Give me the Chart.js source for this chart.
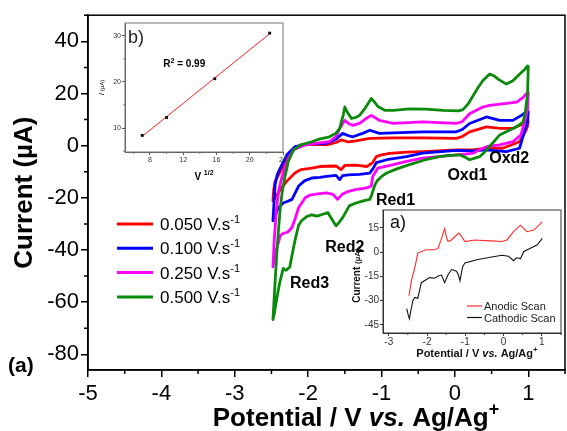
<!DOCTYPE html>
<html>
<head>
<meta charset="utf-8">
<script src="https://cdn.jsdelivr.net/npm/chart.js@4.4.1/dist/chart.umd.min.js"></script>
<style>
body { margin: 0; background: #fff; }
#wrap { position: relative; width: 567px; height: 431px; }
canvas { position: absolute; }
</style>
</head>
<body>
<div id="wrap">
  <canvas id="main" width="567" height="431" style="left:0;top:0"></canvas>
  <canvas id="insB" width="203" height="172" style="left:90px;top:16px"></canvas>
  <canvas id="insA" width="220" height="160" style="left:345px;top:203px"></canvas>
</div>
<script>
// ---------------- DATOS ----------------
const scanRates = ['0.050', '0.100', '0.250', '0.500'];   // V.s-1
const rateColors = ['#ff0000', '#0000ff', '#ff00ff', '#0a8a0a'];

// 0.050 V/s  (cathodic branch from 1.0 V, then anodic branch back)
const pot050 = [1.00, 0.99, 0.97, 0.88, 0.65, 0.43, 0.25, 0.02, -0.44, -0.66, -0.89, -1.00, -1.07, -1.12, -1.20, -1.35, -1.50, -1.55, -1.62, -1.75, -1.84, -1.95, -2.10, -2.18, -2.29, -2.38, -2.45, -2.48,
  -2.47, -2.45, -2.38, -2.29, -2.18, -2.09, -1.90, -1.75, -1.62, -1.55, -1.45, -1.35, -1.16, -0.84, -0.44, 0.02, 0.10, 0.20, 0.43, 0.61, 0.79, 0.90, 1.00];
const cur050 = [9.7, 7.5, 6.0, 1.5, -1.0, -1.0, -1.6, -1.6, -2.3, -2.5, -3.0, -3.5, -4.2, -6.5, -8.0, -7.5, -7.6, -9.2, -7.8, -7.9, -8.0, -8.6, -9.2, -10.5, -13.6, -16.8, -20, -21.2,
  -17, -13.6, -9.9, -5.4, -1.0, 0.3, 0.5, 0.3, 1.2, 2.2, 1.4, 1.8, 2.8, 3.0, 3.0, 2.8, 3.5, 5.3, 7.2, 6.6, 6.6, 8.0, 9.7];

// 0.100 V/s
const pot100 = [1.00, 0.99, 0.96, 0.88, 0.70, 0.50, 0.43, 0.25, 0.02, -0.44, -0.66, -0.93, -1.07, -1.12, -1.16, -1.30, -1.45, -1.53, -1.57, -1.62, -1.75, -1.84, -1.95, -2.05, -2.13, -2.22, -2.27, -2.34, -2.41, -2.45, -2.48,
  -2.47, -2.45, -2.42, -2.38, -2.29, -2.18, -2.00, -1.75, -1.62, -1.53, -1.45, -1.39, -1.25, -1.16, -1.03, -0.84, -0.44, 0.02, 0.10, 0.20, 0.43, 0.61, 0.79, 0.90, 1.00];
const cur100 = [13.5, 9, 6.6, -1.0, -2.3, -1.8, -1.6, -2.0, -1.8, -2.9, -4.2, -5.4, -6.5, -9, -10.5, -11.0, -11.2, -11.5, -13.0, -11.4, -11.8, -12.2, -12.4, -13.5, -15.5, -20.6, -21.2, -22, -24, -27, -28.8,
  -24, -14.9, -11, -8.6, -3.5, -0.4, 0.6, 0.9, 2.5, 4.7, 3.8, 3.4, 4.8, 5.9, 4.7, 4.9, 5.3, 5.3, 6.2, 8.5, 11.0, 9.7, 9.7, 11.5, 13.5];

// 0.250 V/s
const pot250 = [1.00, 0.99, 0.96, 0.90, 0.79, 0.61, 0.43, 0.32, 0.25, 0.15, 0.02, -0.44, -0.66, -0.84, -1.05, -1.12, -1.14, -1.20, -1.34, -1.45, -1.53, -1.60, -1.66, -1.75, -1.87, -1.98, -2.04, -2.13, -2.18, -2.22, -2.28, -2.34, -2.38, -2.41, -2.45, -2.48,
  -2.46, -2.43, -2.40, -2.36, -2.29, -2.20, -2.04, -1.90, -1.71, -1.62, -1.57, -1.50, -1.44, -1.39, -1.30, -1.22, -1.14, -1.08, -1.03, -0.84, -0.44, 0.02, 0.10, 0.20, 0.38, 0.47, 0.65, 0.84, 0.93, 1.00];
const cur250 = [20.7, 14, 10.4, 4.1, 1.5, 0.3, -0.4, -1.8, -2.9, -3.2, -3.5, -4.8, -6.0, -7.3, -8.6, -11.8, -15.5, -16.2, -16.8, -17.5, -18.5, -20.6, -18.7, -18.1, -18.5, -19, -20, -23.8, -28.2, -31.4, -33.2, -33.6, -34.5, -37.7, -42, -46.5,
  -35.1, -23.8, -17, -12.4, -6.1, -1.6, 0.3, 0.9, 1.5, 3.5, 6.6, 9.7, 8.3, 7.8, 8.5, 10.2, 11.6, 10.6, 9.7, 8.5, 9.1, 8.5, 9.2, 12.2, 14.8, 15.4, 16.0, 16.7, 18.5, 20.7];

// 0.500 V/s
const pot500 = [1.00, 0.99, 0.96, 0.93, 0.86, 0.79, 0.70, 0.61, 0.53, 0.47, 0.40, 0.34, 0.27, 0.20, 0.13, 0.06, -0.10, -0.21, -0.40, -0.62, -0.80, -0.93, -1.00, -1.06, -1.09, -1.13, -1.16, -1.25, -1.35, -1.44, -1.53, -1.58, -1.62, -1.67, -1.73, -1.80, -1.88, -1.95, -2.02, -2.09, -2.13, -2.18, -2.22, -2.25, -2.30, -2.34, -2.39, -2.43, -2.46, -2.48,
  -2.47, -2.45, -2.42, -2.38, -2.35, -2.32, -2.27, -2.20, -2.10, -1.95, -1.85, -1.71, -1.62, -1.57, -1.52, -1.50, -1.47, -1.41, -1.35, -1.30, -1.22, -1.14, -1.09, -1.05, -0.95, -0.84, -0.62, -0.40, -0.16, 0.05, 0.11, 0.18, 0.25, 0.32, 0.38, 0.47, 0.53, 0.59, 0.70, 0.79, 0.88, 0.95, 1.00];
const cur500 = [30.8, 20, 13, 9.1, 7.6, 6.6, 5.3, 4.1, 1.5, -0.4, -2.6, -4.2, -4.8, -5.4, -4.3, -3.5, -3.8, -4.2, -5.4, -7.3, -9, -10.5, -11.8, -13.5, -15, -18.5, -20.6, -21.2, -22, -23.1, -27.6, -29.5, -30.7, -28.5, -25.7, -26.3, -27, -26.5, -27.2, -28.8, -30.5, -36.4, -42, -46.5, -47.8, -47.1, -52.8, -59, -64.2, -66.7,
  -62, -52, -38, -23.8, -17, -12.4, -6.1, -1.6, 0.3, 1.5, 2.5, 3.4, 4.8, 6.6, 12, 14.8, 13, 10.4, 10.8, 11.6, 14.5, 18.1, 16.5, 15.0, 13.5, 13.5, 14.1, 14.0, 13.5, 13.3, 13.8, 16, 19.2, 22.5, 24.9, 27.4, 26.8, 25.5, 23.6, 24.9, 27.4, 29.2, 30.8];

const potentials = [pot050, pot100, pot250, pot500];
const currents = [cur050, cur100, cur250, cur500];

// etiquetas de picos (posicion en V / uA)
const peakNames = ['Red1', 'Red2', 'Red3', 'Oxd1', 'Oxd2'];
const peakPot = [-0.81, -1.50, -1.98, 0.17, 0.74];
const peakCur = [-20.9, -39.0, -52.7, -11.4, -4.9];

// inset b) : I vs v^1/2
const sqrtRate = [7.07, 10.0, 15.8, 22.4];
const peakCurrent = [8.4, 12.3, 20.7, 30.6];

// inset a) : anodic / cathodic scans
const anodicPot = [-2.47, -2.41, -2.32, -2.24, -2.02, -1.80, -1.71, -1.62, -1.54, -1.49, -1.45, -1.36, -1.18, -1.14, -1.01, -0.75, -0.35, -0.04, 0.09, 0.26, 0.44, 0.61, 0.79, 1.01];
const anodicCur = [-27, -17.8, -9.7, -0.6, 1.4, 1.4, 2.4, 8.5, 14.6, 9, 6.5, 7.5, 11.6, 11, 6.5, 7.5, 6.9, 6.5, 7.5, 12.6, 16.6, 12.6, 13.6, 18.7];
const cathodicPot = [-2.53, -2.49, -2.46, -2.42, -2.37, -2.32, -2.24, -2.15, -1.93, -1.80, -1.71, -1.62, -1.54, -1.45, -1.36, -1.23, -1.18, -1.14, -1.07, -1.01, -0.70, -0.35, -0.04, 0.13, 0.26, 0.33, 0.40, 0.44, 0.53, 0.70, 0.88, 1.01];
const cathodicCur = [-35, -39, -41.2, -36, -30, -28, -28.5, -18.9, -15.8, -16.2, -14.8, -14.2, -18.9, -14, -10.8, -11.8, -14, -17.8, -9, -6.7, -4.7, -3.2, -2.0, -2.6, -5.3, -3.7, -3.7, -4.1, 0.4, 2.4, 4.5, 8.5];

// ---------------- UTILIDADES ----------------
const FAM = "'Liberation Sans', Arial, sans-serif";
Chart.defaults.font.family = FAM;

function pares(xs, ys) {
    return xs.map((v, i) => ({ x: v, y: ys[i] }));
}

// texto con trozos de distinta fuente (superindices, cursiva)
function textoMixto(ctx, trozos, x, y, align) {
    let total = 0;
    trozos.forEach(t => { ctx.font = t.font; t.w = ctx.measureText(t.text).width; total += t.w; });
    let cx = align === 'center' ? x - total / 2 : x;
    ctx.textAlign = 'left';
    ctx.textBaseline = 'alphabetic';
    trozos.forEach(t => { ctx.font = t.font; ctx.fillText(t.text, cx, y - (t.rise || 0)); cx += t.w; });
}

function ticksMenores(ctx, scale, step, len, a, vertical) {
    ctx.beginPath();
    for (let k = Math.ceil(scale.min / step); k * step <= scale.max + 1e-9; k++) {
        if (k % 2 === 0) continue;
        const p = scale.getPixelForValue(k * step);
        if (vertical) { ctx.moveTo(a.left, p); ctx.lineTo(a.left - len, p); }
        else { ctx.moveTo(p, a.bottom); ctx.lineTo(p, a.bottom + len); }
    }
    ctx.stroke();
}

function ejeLineal(min, max, step, fontSize, color, tickLen, pad, lw) {
    return {
        type: 'linear', min: min, max: max,
        ticks: { stepSize: step, includeBounds: false, autoSkip: false, maxRotation: 0, color: color, padding: pad, font: { size: fontSize } },
        grid: { drawOnChartArea: false, drawTicks: true, tickLength: tickLen, color: color, lineWidth: lw },
        border: { display: true, color: color, width: lw }
    };
}

// ---------------- GRAFICO PRINCIPAL ----------------
const decoPrincipal = {
    id: 'decoPrincipal',
    afterDraw(chart) {
        const ctx = chart.ctx, a = chart.chartArea, x = chart.scales.x, y = chart.scales.y;
        ctx.save();
        ctx.strokeStyle = '#000';
        ctx.lineWidth = 1.5;
        ctx.strokeRect(a.left, a.top, a.right - a.left, a.bottom - a.top);
        ticksMenores(ctx, x, 0.5, 4, a, false);
        ticksMenores(ctx, y, 10, 4, a, true);

        ctx.fillStyle = '#000';
        // titulo eje y
        ctx.save();
        ctx.translate(25, (a.top + a.bottom) / 2);
        ctx.rotate(-Math.PI / 2);
        ctx.font = 'bold 26px ' + FAM;
        ctx.textAlign = 'center';
        ctx.textBaseline = 'middle';
        ctx.fillText('Current (\u00b5A)', 0, 0);
        ctx.restore();
        // titulo eje x
        textoMixto(ctx, [
            { text: 'Potential / V ', font: 'bold 26px ' + FAM },
            { text: 'vs.', font: 'italic bold 26px ' + FAM },
            { text: ' Ag/Ag', font: 'bold 26px ' + FAM },
            { text: '+', font: 'bold 18px ' + FAM, rise: 11 }
        ], 356, 426, 'center');
        // (a)
        ctx.font = 'bold 21px ' + FAM;
        ctx.textAlign = 'left';
        ctx.textBaseline = 'alphabetic';
        ctx.fillText('(a)', 8, 372);

        // leyenda
        scanRates.forEach((r, i) => {
            const ly = 224 + i * 24.3;
            ctx.strokeStyle = rateColors[i];
            ctx.lineWidth = 3;
            ctx.beginPath();
            ctx.moveTo(117, ly); ctx.lineTo(153, ly);
            ctx.stroke();
            ctx.fillStyle = '#000';
            textoMixto(ctx, [
                { text: r + ' V.s', font: '17px ' + FAM },
                { text: '-1', font: '11px ' + FAM, rise: 7 }
            ], 160, ly + 6, 'left');
        });

        // nombres de picos
        ctx.font = 'bold 16px ' + FAM;
        ctx.textAlign = 'center';
        ctx.textBaseline = 'middle';
        peakNames.forEach((n, i) => {
            ctx.fillText(n, x.getPixelForValue(peakPot[i]), y.getPixelForValue(peakCur[i]));
        });
        ctx.restore();
    }
};

const ejeX = ejeLineal(-5, 1.5, 1, 22, '#000', 7, 4, 1.5);
ejeX.afterFit = s => { s.height = 61; };
const ejeY = ejeLineal(-86, 50, 20, 22, '#000', 7, 2, 1.5);
ejeY.afterFit = s => { s.width = 88; };

new Chart(document.getElementById('main'), {
    type: 'scatter',
    data: {
        datasets: scanRates.map((r, i) => ({
            label: r + ' V.s-1',
            data: pares(potentials[i], currents[i]),
            showLine: true,
            borderColor: rateColors[i],
            backgroundColor: rateColors[i],
            borderWidth: 2.8,
            borderJoinStyle: 'round',
            pointRadius: 0,
            tension: 0,
            order: scanRates.length - i
        }))
    },
    options: {
        responsive: false,
        animation: false,
        layout: { padding: { top: 14, right: 2, left: 0, bottom: 0 } },
        plugins: { legend: { display: false }, tooltip: { enabled: false } },
        scales: { x: ejeX, y: ejeY }
    },
    plugins: [decoPrincipal]
});

// ---------------- INSET b) ----------------
// recta de ajuste por minimos cuadrados
const n = sqrtRate.length;
const mx = sqrtRate.reduce((s, v) => s + v, 0) / n;
const my = peakCurrent.reduce((s, v) => s + v, 0) / n;
let sxy = 0, sxx = 0;
for (let i = 0; i < n; i++) { sxy += (sqrtRate[i] - mx) * (peakCurrent[i] - my); sxx += (sqrtRate[i] - mx) ** 2; }
const pend = sxy / sxx, orig = my - pend * mx;
const xFit = [sqrtRate[0], sqrtRate[n - 1]];

const fondoBlanco = {
    id: 'fondoBlanco',
    beforeDraw(chart) {
        const a = chart.chartArea;
        chart.ctx.save();
        chart.ctx.fillStyle = '#fff';
        chart.ctx.fillRect(a.left, a.top, a.right - a.left, a.bottom - a.top);
        chart.ctx.restore();
    }
};

const decoB = {
    id: 'decoB',
    afterDraw(chart) {
        const ctx = chart.ctx, a = chart.chartArea, x = chart.scales.x, y = chart.scales.y;
        ctx.save();
        ctx.strokeStyle = '#777';
        ctx.lineWidth = 1;
        ctx.strokeRect(a.left, a.top, a.right - a.left, a.bottom - a.top);
        ticksMenores(ctx, x, 2, 2, a, false);
        ticksMenores(ctx, y, 5, 2, a, true);
        ctx.fillStyle = '#222';
        ctx.font = '18px ' + FAM;
        ctx.textAlign = 'left';
        ctx.textBaseline = 'alphabetic';
        ctx.fillText('b)', a.left + 3, a.top + 20);
        ctx.fillStyle = '#000';
        textoMixto(ctx, [
            { text: 'R', font: 'bold 10px ' + FAM },
            { text: '2', font: 'bold 7px ' + FAM, rise: 4 },
            { text: ' = 0.99', font: 'bold 10px ' + FAM }
        ], x.getPixelForValue(9.6), y.getPixelForValue(23.2), 'left');
        textoMixto(ctx, [
            { text: 'V ', font: 'bold 10px ' + FAM },
            { text: '1/2', font: 'bold 7px ' + FAM, rise: 5 }
        ], (a.left + a.right) / 2, a.bottom + 28, 'center');
        ctx.save();
        ctx.translate(a.left - 24, (a.top + a.bottom) / 2);
        ctx.rotate(-Math.PI / 2);
        textoMixto(ctx, [
            { text: 'I', font: 'italic 8px ' + FAM },
            { text: ' (\u00b5A)', font: '6px ' + FAM }
        ], 0, 3, 'center');
        ctx.restore();
        ctx.restore();
    }
};

const bX = ejeLineal(5, 24, 4, 7, '#555', 3, 1, 1);
bX.ticks.color = '#333';
bX.afterFit = s => { s.height = 36; };
const bY = ejeLineal(4.8, 32.8, 10, 7, '#555', 3, 1, 1);
bY.ticks.color = '#333';
bY.afterFit = s => { s.width = 35; };

new Chart(document.getElementById('insB'), {
    type: 'scatter',
    data: {
        datasets: [
            {
                label: 'I',
                data: pares(sqrtRate, peakCurrent),
                pointStyle: 'rect',
                pointRadius: 2,
                backgroundColor: '#000',
                borderColor: '#000',
                borderWidth: 0,
                order: 0
            },
            {
                label: 'fit',
                data: pares(xFit, xFit.map(v => orig + pend * v)),
                showLine: true,
                pointRadius: 0,
                borderColor: '#ff2020',
                borderWidth: 1,
                order: 1
            }
        ]
    },
    options: {
        responsive: false,
        animation: false,
        layout: { padding: { top: 7, right: 10, left: 0, bottom: 0 } },
        plugins: { legend: { display: false }, tooltip: { enabled: false } },
        scales: { x: bX, y: bY }
    },
    plugins: [fondoBlanco, decoB]
});

// ---------------- INSET a) ----------------
const scanNames = ['Anodic Scan', 'Cathodic Scan'];
const scanColors = ['#ff2a2a', '#111'];

const decoA = {
    id: 'decoA',
    afterDraw(chart) {
        const ctx = chart.ctx, a = chart.chartArea, x = chart.scales.x;
        ctx.save();
        ctx.strokeStyle = '#333';
        ctx.lineWidth = 1;
        ctx.strokeRect(a.left, a.top, a.right - a.left, a.bottom - a.top);
        ticksMenores(ctx, x, 0.5, 2, a, false);
        ctx.fillStyle = '#111';
        ctx.font = '18px ' + FAM;
        ctx.textAlign = 'left';
        ctx.textBaseline = 'alphabetic';
        ctx.fillText('a)', a.left + 7, a.top + 18);
        // leyenda
        scanNames.forEach((s, i) => {
            const ly = a.bottom - 27 + i * 11.5;
            ctx.strokeStyle = scanColors[i];
            ctx.lineWidth = 1.2;
            ctx.beginPath();
            ctx.moveTo(a.left + 84, ly); ctx.lineTo(a.left + 99, ly);
            ctx.stroke();
            ctx.fillStyle = '#222';
            ctx.font = '11px ' + FAM;
            ctx.fillText(s, a.left + 101, ly + 4);
        });
        // titulos
        ctx.fillStyle = '#111';
        textoMixto(ctx, [
            { text: 'Potential / V ', font: 'bold 11px ' + FAM },
            { text: 'vs.', font: 'italic bold 11px ' + FAM },
            { text: ' Ag/Ag', font: 'bold 11px ' + FAM },
            { text: '+', font: 'bold 8px ' + FAM, rise: 5 }
        ], (a.left + a.right) / 2 + 5, a.bottom + 24, 'center');
        ctx.save();
        ctx.translate(a.left - 27, (a.top + a.bottom) / 2 + 4);
        ctx.rotate(-Math.PI / 2);
        textoMixto(ctx, [
            { text: 'Current ', font: 'bold 10px ' + FAM },
            { text: '(\u00b5A)', font: 'bold 8px ' + FAM }
        ], 0, 4, 'center');
        ctx.restore();
        ctx.restore();
    }
};

const aX = ejeLineal(-3.15, 1.5, 1, 10, '#333', 3, 0, 1);
aX.afterFit = s => { s.height = 30; };
const aY = ejeLineal(-50, 26, 15, 10, '#333', 3, 1, 1);
aY.afterFit = s => { s.width = 38; };

new Chart(document.getElementById('insA'), {
    type: 'scatter',
    data: {
        datasets: [
            { label: scanNames[0], data: pares(anodicPot, anodicCur), showLine: true, pointRadius: 0, borderColor: scanColors[0], borderWidth: 1.1, tension: 0 },
            { label: scanNames[1], data: pares(cathodicPot, cathodicCur), showLine: true, pointRadius: 0, borderColor: scanColors[1], borderWidth: 1.1, tension: 0 }
        ]
    },
    options: {
        responsive: false,
        animation: false,
        layout: { padding: { top: 6, right: 4, left: 0, bottom: 0 } },
        plugins: { legend: { display: false }, tooltip: { enabled: false } },
        scales: { x: aX, y: aY }
    },
    plugins: [fondoBlanco, decoA]
});
</script>
</body>
</html>
